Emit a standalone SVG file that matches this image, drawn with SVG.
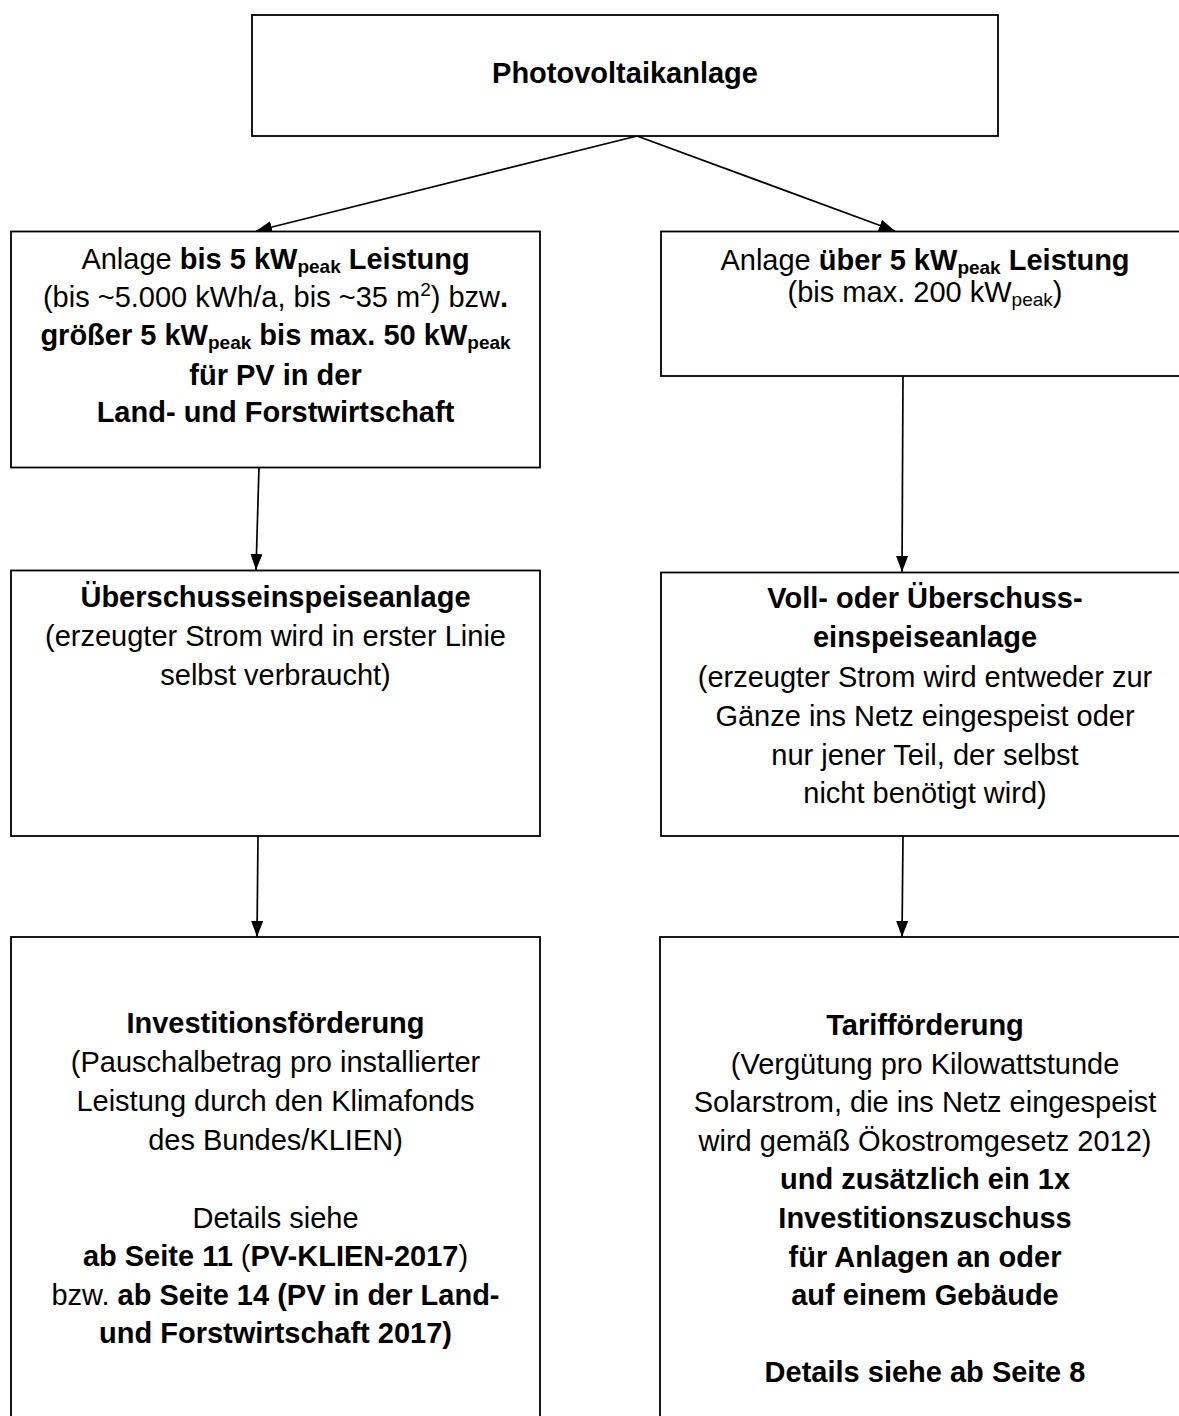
<svg xmlns="http://www.w3.org/2000/svg" width="1179" height="1416" viewBox="0 0 1179 1416">
<style>
.box{fill:#fff;stroke:#000;stroke-width:1.8}
.con{stroke:#000;stroke-width:1.7;fill:none}
text{font-family:"Liberation Sans",Arial,sans-serif;font-size:29px;fill:#000;text-anchor:middle}
.b{font-weight:bold}
.s{font-size:19px}
</style>
<defs>
<marker id="ah" markerUnits="userSpaceOnUse" markerWidth="16" markerHeight="13" refX="16" refY="6" orient="auto">
<path d="M0,0 L16,6 L0,12 z" fill="#000"/>
</marker>
</defs>
<rect width="1179" height="1416" fill="#fff"/>
<g id="connectors">
<line class="con" x1="637" y1="136" x2="256" y2="231" marker-end="url(#ah)"/>
<line class="con" x1="637" y1="136" x2="895" y2="231" marker-end="url(#ah)"/>
<line class="con" x1="259" y1="467" x2="256" y2="570" marker-end="url(#ah)"/>
<line class="con" x1="903" y1="376" x2="902" y2="572" marker-end="url(#ah)"/>
<line class="con" x1="258" y1="836" x2="257" y2="937" marker-end="url(#ah)"/>
<line class="con" x1="903" y1="836" x2="902" y2="937" marker-end="url(#ah)"/>
</g>
<g id="node-pv">
<rect class="box" x="252" y="15" width="746" height="121"/>
<text class="b" x="625" y="83">Photovoltaikanlage</text>
</g>
<g id="node-bis5">
<rect class="box" x="11" y="231.5" width="529" height="236"/>
<text x="275.5" y="269">Anlage <tspan class="b">bis 5 kW</tspan><tspan class="b s" dy="4">peak</tspan><tspan class="b" dy="-4"> Leistung</tspan></text>
<text x="275.5" y="307">(bis ~5.000 kWh/a, bis ~35 m<tspan class="s" dy="-11">2</tspan><tspan dy="11">) bzw</tspan><tspan class="b">.</tspan></text>
<text class="b" x="275.5" y="345">größer 5 kW<tspan class="s" dy="4">peak</tspan><tspan dy="-4"> bis max. 50 kW</tspan><tspan class="s" dy="4">peak</tspan></text>
<text class="b" x="275.5" y="385">für PV in der</text>
<text class="b" x="275.5" y="422">Land- und Forstwirtschaft</text>
</g>
<g id="node-ueber5">
<rect class="box" x="661" y="231.5" width="528" height="144.5"/>
<text x="925" y="270">Anlage <tspan class="b">über 5 kW</tspan><tspan class="b s" dy="4">peak</tspan><tspan class="b" dy="-4"> Leistung</tspan></text>
<text x="925" y="302">(bis max. 200 kW<tspan class="s" dy="4">peak</tspan><tspan dy="-4">)</tspan></text>
</g>
<g id="node-ueberschuss">
<rect class="box" x="11" y="570.5" width="529" height="265.5"/>
<text class="b" x="275.5" y="607">Überschusseinspeiseanlage</text>
<text x="275.5" y="646">(erzeugter Strom wird in erster Linie</text>
<text x="275.5" y="685">selbst verbraucht)</text>
</g>
<g id="node-voll">
<rect class="box" x="661" y="572.5" width="528" height="263.5"/>
<text class="b" x="925" y="608">Voll- oder Überschuss-</text>
<text class="b" x="925" y="647">einspeiseanlage</text>
<text x="925" y="687">(erzeugter Strom wird entweder zur</text>
<text x="925" y="726">Gänze ins Netz eingespeist oder</text>
<text x="925" y="765">nur jener Teil, der selbst</text>
<text x="925" y="803">nicht benötigt wird)</text>
</g>
<g id="node-invest">
<rect class="box" x="11" y="937" width="529" height="500"/>
<text class="b" x="275.5" y="1033">Investitionsförderung</text>
<text x="275.5" y="1072">(Pauschalbetrag pro installierter</text>
<text x="275.5" y="1111">Leistung durch den Klimafonds</text>
<text x="275.5" y="1150">des Bundes/KLIEN)</text>
<text x="275.5" y="1228">Details siehe</text>
<text x="275.5" y="1266"><tspan class="b">ab Seite 11</tspan> (<tspan class="b">PV-KLIEN-2017</tspan>)</text>
<text x="275.5" y="1305">bzw. <tspan class="b">ab Seite 14 (PV in der Land-</tspan></text>
<text class="b" x="275.5" y="1343">und Forstwirtschaft 2017)</text>
</g>
<g id="node-tarif">
<rect class="box" x="660" y="937" width="529" height="500"/>
<text class="b" x="925" y="1035">Tarifförderung</text>
<text x="925" y="1074">(Vergütung pro Kilowattstunde</text>
<text x="925" y="1112">Solarstrom, die ins Netz eingespeist</text>
<text x="925" y="1151">wird gemäß Ökostromgesetz 2012)</text>
<text class="b" x="925" y="1189">und zusätzlich ein 1x</text>
<text class="b" x="925" y="1228">Investitionszuschuss</text>
<text class="b" x="925" y="1267">für Anlagen an oder</text>
<text class="b" x="925" y="1305">auf einem Gebäude</text>
<text class="b" x="925" y="1382">Details siehe ab Seite 8</text>
</g>
</svg>
